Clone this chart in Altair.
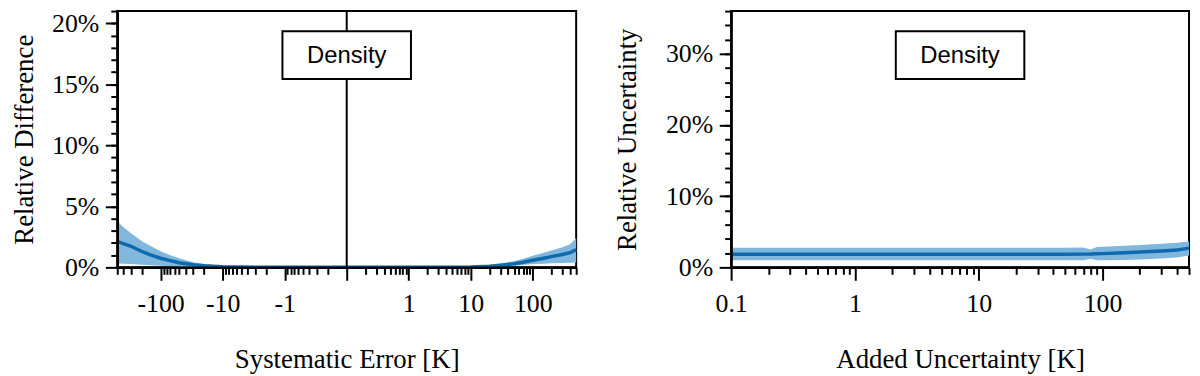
import math
import altair as alt
import pandas as pd

# ---------------- data (values in percent) ----------------
LEFT_X = [-500, -400, -300, -200, -150, -100, -70, -50, -30, -20, -10, -5, -2, -1, -0.5, -0.1,
          0.1, 0.5, 1, 2, 5, 10, 20, 30, 50, 70, 100, 150, 200, 300, 400, 500]
LEFT_MEAN = [2.13, 1.95, 1.73, 1.30, 1.05, 0.75, 0.55, 0.38, 0.22, 0.14, 0.06, 0.03, 0.01, 0.01, 0.0, 0.0,
             0.0, 0.0, 0.0, 0.0, 0.01, 0.03, 0.10, 0.18, 0.30, 0.42, 0.58, 0.75, 0.88, 1.05, 1.20, 1.45]
LEFT_UPPER = [3.78, 3.30, 2.80, 2.15, 1.80, 1.33, 1.00, 0.75, 0.42, 0.28, 0.12, 0.06, 0.03, 0.02, 0.01, 0.01,
              0.01, 0.01, 0.02, 0.02, 0.03, 0.05, 0.17, 0.30, 0.50, 0.70, 0.95, 1.20, 1.38, 1.65, 1.90, 2.40]
LEFT_LOWER = [0.32, 0.30, 0.27, 0.22, 0.18, 0.14, 0.10, 0.07, 0.04, 0.03, 0.01, 0.0, 0.0, 0.0, 0.0, 0.0,
              0.0, 0.0, 0.0, 0.0, 0.0, 0.01, 0.04, 0.08, 0.14, 0.20, 0.27, 0.30, 0.33, 0.35, 0.38, 0.40]

RIGHT_X = [0.1, 0.2, 0.5, 1, 2, 5, 10, 20, 50, 70, 80, 90, 100, 150, 200, 300, 400, 500]
RIGHT_MEAN = [1.85, 1.85, 1.85, 1.85, 1.85, 1.85, 1.85, 1.85, 1.85, 1.86, 1.87, 1.90, 1.93, 2.05, 2.15, 2.30, 2.45, 2.70]
RIGHT_UPPER = [2.75, 2.75, 2.75, 2.75, 2.75, 2.75, 2.75, 2.75, 2.77, 2.80, 2.50, 2.85, 2.90, 3.05, 3.15, 3.30, 3.45, 3.65]
RIGHT_LOWER = [1.00, 1.00, 1.00, 1.00, 1.00, 1.00, 1.00, 1.00, 1.00, 1.00, 1.20, 1.00, 1.00, 1.05, 1.10, 1.25, 1.40, 1.65]

PANEL_LABEL = ["Density"]
ZERO_LINE = [0]

# tick values / labels
LEFT_X_TICKS = [-100, -10, -1, 0, 1, 10, 100]
LEFT_X_TICK_LABELS = ["-100", "-10", "-1", "", "1", "10", "100"]
LEFT_X_LIMIT = 500
LEFT_Y_TICKS = [0, 0.05, 0.10, 0.15, 0.20]
LEFT_Y_MAX = 0.21

RIGHT_X_TICKS = [0.1, 1, 10, 100]
RIGHT_X_TICK_LABELS = ["0.1", "1", "10", "100"]
RIGHT_X_DOMAIN = [0.1, 500]
RIGHT_Y_TICKS = [0, 0.10, 0.20, 0.30]
RIGHT_Y_MAX = 0.36

# ---------------- styling ----------------
SERIF = "Liberation Serif"
SANS = "Liberation Sans"
BAND = "#80b7dc"
LINE = "#0f69ad"
W_L, W_R, H = 462, 461, 258


def t_of(x):
    """symmetric log position: |x|=0.1 at centre, one unit per decade"""
    if x == 0:
        return 0.0
    return math.copysign(math.log10(abs(x)) + 1, x)


T_EXPR = "(datum.x < 0 ? -1 : 1) * (log(abs(datum.x)) / LN10 + 1)"
T_MAX = t_of(LEFT_X_LIMIT)

left_minor_raw = [s * m * 10 ** k for s in (-1, 1) for k in (-1, 0, 1, 2) for m in range(2, 10)
                  if m * 10 ** k <= LEFT_X_LIMIT]
left_minor_t = [t_of(v) for v in left_minor_raw]
left_major_t = [t_of(v) for v in LEFT_X_TICKS]
left_y_minor = [i / 100 for i in range(1, 22)]

right_minor_x = [m * 10 ** k for k in (-1, 0, 1, 2) for m in range(2, 10) if m * 10 ** k <= RIGHT_X_DOMAIN[1]]
right_y_minor = [round(0.02 * i, 4) for i in range(1, 19)]


def label_expr(values, labels):
    vals = ",".join(repr(float(v)) for v in values)
    labs = ",".join("'" + s + "'" for s in labels)
    return f"[{labs}][indexof([{vals}], datum.value)]"


common = dict(labelFont=SERIF, labelFontSize=26, labelColor="black",
              titleFont=SERIF, titleFontSize=27, titleFontWeight="normal", titleColor="black",
              tickColor="black", tickWidth=2, domainColor="black", domainWidth=2.5,
              grid=False, labelFlush=False, labelOverlap=False)


def major_x(values, expr, title):
    return alt.Axis(values=values, labelExpr=expr, tickSize=13, labelPadding=10, orient="bottom",
                    title=title, titleY=101, titleBaseline="alphabetic", zindex=1, **common)


def minor_x(values):
    return alt.Axis(values=values, orient="bottom", labels=False, domain=False, tickSize=7,
                    tickColor="black", tickWidth=2, title=None, grid=False)


def major_y(values, title, tx):
    return alt.Axis(values=values, format=".0%", tickSize=12, labelPadding=6.5, orient="left",
                    labelBaseline="middle", title=title, titleX=tx, titleY=H / 2, titleAngle=270,
                    titleAlign="center", titleBaseline="alphabetic", zindex=1, **common)


def minor_y(values):
    return alt.Axis(values=values, orient="left", labels=False, domain=False, tickSize=6.5,
                    tickColor="black", tickWidth=2, title=None, grid=False)


def label_box(width):
    cx = width / 2
    box_df = pd.DataFrame({"label": PANEL_LABEL})
    rect = alt.Chart(box_df).mark_rect(fill="white", stroke="black", strokeWidth=2).encode(
        x=alt.value(cx - 64.7), x2=alt.value(cx + 64.7), y=alt.value(20.3), y2=alt.value(68.3))
    text = alt.Chart(box_df).mark_text(font=SANS, fontSize=24, color="black", align="center",
                                       baseline="alphabetic").encode(
        x=alt.value(cx), y=alt.value(52.7), text="label:N")
    return rect, text


# ---------------- left panel ----------------
left_df = pd.DataFrame({
    "x": LEFT_X,
    "mean": [v / 100 for v in LEFT_MEAN],
    "hi": [v / 100 for v in LEFT_UPPER],
    "lo": [v / 100 for v in LEFT_LOWER],
})
xs_l = alt.Scale(domain=[-T_MAX, T_MAX], nice=False, zero=False)
ys_l = alt.Scale(domain=[0, LEFT_Y_MAX], nice=False, zero=True)

lbase = alt.Chart(left_df).transform_calculate(t=T_EXPR)
l_band = lbase.mark_area(color=BAND, opacity=1).encode(
    x=alt.X("t:Q", scale=xs_l,
            axis=major_x(left_major_t, label_expr(left_major_t, LEFT_X_TICK_LABELS), "Systematic Error [K]")),
    y=alt.Y("lo:Q", scale=ys_l, axis=major_y(LEFT_Y_TICKS, "Relative Difference", -85)),
    y2="hi:Q",
)
l_line = lbase.mark_line(color=LINE, strokeWidth=3.5).encode(
    x=alt.X("t:Q", scale=xs_l, axis=minor_x(left_minor_t)),
    y=alt.Y("mean:Q", scale=ys_l, axis=minor_y(left_y_minor)),
)
l_rule = alt.Chart(pd.DataFrame({"t": ZERO_LINE})).mark_rule(color="black", strokeWidth=2).encode(
    x=alt.X("t:Q", scale=xs_l, axis=None))
l_rect, l_text = label_box(W_L)
left = alt.layer(l_band, l_line, l_rule, l_rect, l_text).resolve_axis(
    x="independent", y="independent").properties(width=W_L, height=H)

# ---------------- right panel ----------------
right_df = pd.DataFrame({
    "x": RIGHT_X,
    "mean": [v / 100 for v in RIGHT_MEAN],
    "hi": [v / 100 for v in RIGHT_UPPER],
    "lo": [v / 100 for v in RIGHT_LOWER],
})
xs_r = alt.Scale(type="log", domain=RIGHT_X_DOMAIN, nice=False)
ys_r = alt.Scale(domain=[0, RIGHT_Y_MAX], nice=False, zero=True)

rbase = alt.Chart(right_df)
r_band = rbase.mark_area(color=BAND, opacity=1).encode(
    x=alt.X("x:Q", scale=xs_r,
            axis=major_x(RIGHT_X_TICKS, label_expr(RIGHT_X_TICKS, RIGHT_X_TICK_LABELS), "Added Uncertainty [K]")),
    y=alt.Y("lo:Q", scale=ys_r, axis=major_y(RIGHT_Y_TICKS, "Relative Uncertainty", -96)),
    y2="hi:Q",
)
r_line = rbase.mark_line(color=LINE, strokeWidth=3.5).encode(
    x=alt.X("x:Q", scale=xs_r, axis=minor_x(right_minor_x)),
    y=alt.Y("mean:Q", scale=ys_r, axis=minor_y(right_y_minor)),
)
r_rect, r_text = label_box(W_R)
right = alt.layer(r_band, r_line, r_rect, r_text).resolve_axis(
    x="independent", y="independent").properties(width=W_R, height=H)

chart = alt.hconcat(left, right, spacing=156, bounds="flush").properties(
    autosize=alt.AutoSizeParams(type="none"),
    padding={"left": 110, "top": 1, "right": 1192 - 110, "bottom": 367},
    background="white",
).configure_view(stroke="black", strokeWidth=2)

chart.save("out.html", embed_options={"renderer": "svg", "actions": False})
